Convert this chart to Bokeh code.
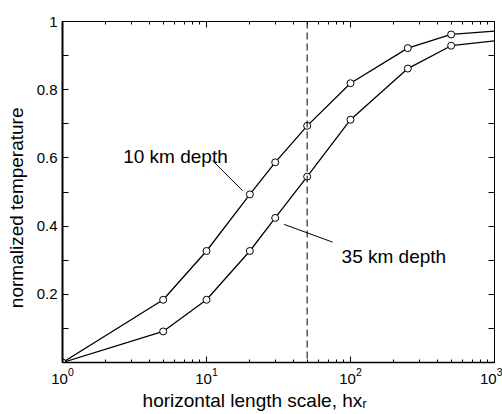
from bokeh.plotting import figure
from bokeh.models import (Range1d, FixedTicker, LinearAxis, LogAxis, Label, Span,
                          LogTickFormatter)
from bokeh.embed import file_html
from bokeh.resources import INLINE

# ---- data ----
x_vals = [1, 5, 10, 20, 30, 50, 100, 250, 500, 1000]
depth10 = [0.0, 0.184, 0.327, 0.493, 0.587, 0.694, 0.819, 0.922, 0.962, 0.972]
depth35 = [0.0, 0.091, 0.184, 0.327, 0.424, 0.545, 0.712, 0.862, 0.929, 0.943]
n_markers = 9  # last point (x=1000) drawn without marker
x_major = [1, 10, 100, 1000]
x_minor = [m * 10 ** d for d in range(3) for m in range(2, 10)]
y_major = [0.2, 0.4, 0.6, 0.8, 1.0]
y_major_labels = ["0.2", "0.4", "0.6", "0.8", "1"]
y_minor = [0.1, 0.3, 0.5, 0.7, 0.9]
ref_x = 50
label10 = "10 km depth"
label35 = "35 km depth"
label10_pos = (2.64, 0.604)
label35_pos = (86.7, 0.312)
leader10 = ((11.0, 0.592), (17.8, 0.504))
leader35 = ((34.6, 0.405), (75.1, 0.353))
xlabel = "horizontal length scale, hx\u1d63" + "\u00a0" * 9
ylabel = "normalized temperature" + "\u00a0" * 6

FONT = "Liberation Sans"

p = figure(width=502, height=414, x_axis_type="log",
           x_range=Range1d(1, 1000), y_range=Range1d(0, 1),
           output_backend="svg", toolbar_location=None,
           min_border_left=62, min_border_right=8,
           min_border_top=21, min_border_bottom=52)
p.xgrid.visible = False
p.ygrid.visible = False
p.outline_line_color = "black"
p.outline_line_width = 1
p.background_fill_color = "white"
p.border_fill_color = "white"

xt = FixedTicker(ticks=x_major, minor_ticks=x_minor)
yt = FixedTicker(ticks=y_major, minor_ticks=y_minor)


def style_axis(ax, width, show_labels=False):
    ax.axis_line_color = "black"
    ax.axis_line_width = width
    ax.major_tick_in = 6
    ax.major_tick_out = 0
    ax.minor_tick_in = 3
    ax.minor_tick_out = 0
    ax.major_tick_line_color = "black"
    ax.minor_tick_line_color = "black"
    if show_labels:
        ax.major_label_text_font = FONT
        ax.major_label_text_font_size = "15px"
        ax.major_label_text_color = "black"
        ax.axis_label_text_font = FONT
        ax.axis_label_text_font_size = "19px"
        ax.axis_label_text_font_style = "normal"
        ax.axis_label_text_color = "black"
    else:
        ax.major_label_text_font_size = "2px"
        ax.major_label_text_alpha = 0
        ax.major_label_standoff = 0


xa = p.xaxis[0]
xa.ticker = xt
xa.formatter = LogTickFormatter()
style_axis(xa, 1.5, show_labels=True)
xa.major_label_standoff = 5
xa.axis_label = xlabel
xa.axis_label_standoff = 3

ya = p.yaxis[0]
ya.ticker = yt
style_axis(ya, 2, show_labels=True)
ya.minor_tick_in = 6
ya.major_label_standoff = 5
ya.major_label_overrides = {v: s for v, s in zip(y_major, y_major_labels)}
ya.axis_label = ylabel
ya.axis_label_standoff = 7

ra = LinearAxis(ticker=yt)
style_axis(ra, 1)
ra.minor_tick_in = 6
p.add_layout(ra, "right")

ta = LogAxis(ticker=xt)
style_axis(ta, 1)
p.add_layout(ta, "above")

# reference dashed line
p.add_layout(Span(location=ref_x, dimension="height", line_color="black",
                  line_width=1, line_dash="7 4"))

# curves
for ys in (depth10, depth35):
    p.line(x_vals, ys, line_color="black", line_width=1.3)
    p.scatter(x_vals[:n_markers], ys[:n_markers], marker="circle", size=7,
              fill_color="white", line_color="black", line_width=1)

# leader lines
for (a, b) in (leader10, leader35):
    p.line([a[0], b[0]], [a[1], b[1]], line_color="black", line_width=1)

for txt, pos in ((label10, label10_pos), (label35, label35_pos)):
    p.add_layout(Label(x=pos[0], y=pos[1], text=txt, text_align="left",
                       text_baseline="alphabetic", text_font=FONT,
                       text_font_size="19px", text_color="black"))

open("out.html", "w").write(file_html(p, INLINE))
